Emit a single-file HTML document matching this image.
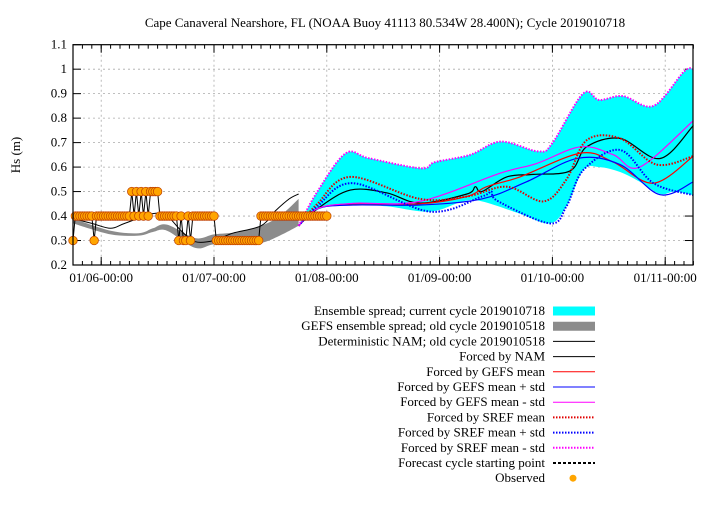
<!DOCTYPE html>
<html><head><meta charset="utf-8"><style>
body{margin:0;background:#fff}
svg text{font-family:"Liberation Serif",serif;font-size:13px;fill:#000}
</style></head><body>
<svg id="c" width="720" height="504" xmlns="http://www.w3.org/2000/svg"></svg>
<script>
// time in hours from 01/05 18:00
const xTickLabels=["01/06-00:00","01/07-00:00","01/08-00:00","01/09-00:00","01/10-00:00","01/11-00:00"];
const xTickHours=[6,30,54,78,102,126];
const yTicks=[0.2,0.3,0.4,0.5,0.6,0.7,0.8,0.9,1,1.1];
const yTickLabels=["0.2","0.3","0.4","0.5","0.6","0.7","0.8","0.9","1","1.1"];
// observed, half-hourly from 01/05 18:00
const obsVals=[0.3,
0.4,0.4,0.4,0.4,0.4,0.4,0.4,0.4,
0.3,
0.4,0.4,0.4,
0.4,0.4,0.4,0.4,0.4,0.4,0.4,0.4,0.4,0.4,0.4,0.4,
0.5,0.4,0.5,0.4,0.5,0.4,0.5,0.4,0.5,0.5,0.5,0.5,0.4,
0.4,0.4,0.4,0.4,0.4,0.4,0.4,
0.3,0.4,0.3,0.3,0.4,0.3,
0.4,0.4,0.4,0.4,0.4,0.4,0.4,0.4,0.4,0.4,
0.3,0.3,0.3,0.3,0.3,0.3,0.3,0.3,0.3,0.3,0.3,0.3,0.3,0.3,0.3,0.3,0.3,0.3,0.3,
0.4,0.4,0.4,0.4,0.4,0.4,0.4,0.4,0.4,0.4,0.4,0.4,0.4,0.4,0.4,0.4,0.4,0.4,0.4,0.4,0.4,0.4,0.4,0.4,0.4,0.4,0.4,0.4,0.4];
const oldT=[0,4,8,11,17,20,23,26,30,34,40,43,46,48];
const oldNam=[.39,.37,.35,.37,.41,.40,.34,.295,.30,.33,.36,.42,.47,.49];
const gefsOldT=[0,8,14,17,20,26,30,35,40,44,48];
const gefsOldHi=[.39,.34,.33,.35,.365,.31,.325,.335,.36,.40,.47];
const gefsOldLo=[.37,.325,.32,.335,.34,.27,.285,.285,.29,.32,.36];
const spreadHiT=[48,52,58,63,74,77,84.5,91,99,102,108.5,112,117,123.5,130,132];
const spreadHi=[.36,.50,.656,.636,.595,.62,.65,.704,.664,.698,.90,.874,.89,.85,.99,1.0];
const spreadLoT=[48,52.6,59.6,66.7,76,83,87,95,101.5,105,108.6,112,116.4,120.6,124.9,128,132];
const spreadLo=[.36,.43,.445,.44,.418,.46,.46,.41,.37,.44,.588,.60,.58,.54,.49,.50,.485];
const namT=[48,52,59,66.7,73.8,83.8,85.6,87,92.3,98,105.8,109.3,116.4,124.9,132];
const nam=[.36,.43,.506,.495,.453,.49,.52,.50,.56,.57,.585,.683,.717,.635,.77];
const gmT=[48,52,59.6,73.8,83.8,88,95.1,108,115,123.5,132];
const gm=[.36,.43,.45,.45,.48,.52,.56,.657,.62,.534,.645];
const gpT=[48,52,59.6,73.8,87,96.5,107.4,116.4,124.9,132];
const gp=[.36,.43,.445,.445,.47,.54,.636,.61,.487,.54];
const gsT=[48,52,59.6,73.8,90.9,98.7,108,115,120.6,132];
const gs=[.36,.43,.452,.46,.575,.615,.683,.65,.60,.79];
const smT=[48,52,59,73.8,83.8,92.3,100.1,105,109.3,116.4,124.2,132];
const sm=[.36,.45,.56,.47,.48,.52,.46,.55,.71,.717,.61,.645];
const spT=[48,52,59.6,75.9,87,89,90.5,101.5,105,108.6,116.4,123.5,132];
const sp=[.36,.44,.534,.418,.48,.50,.46,.37,.44,.588,.67,.534,.485];
const L=73,R=693,T=44.7,B=265;
const sx=t=>L+(t)*(112.8/24);
const sy=v=>B-(v-0.2)*(B-T)/0.9;
const svg=document.getElementById('c');const NS="http://www.w3.org/2000/svg";
function mk(tag,at,name){const e=document.createElementNS(NS,tag);for(const k in at)e.setAttribute(k,at[k]);


svg.appendChild(e);return e;}
function pts(ts,vs){return ts.map((t,i)=>sx(t).toFixed(1)+","+sy(vs[i]).toFixed(1)).join(" ");}
function smooth(ts,vs,move){const p=ts.map((t,i)=>[sx(t),sy(vs[i])]);let d=(move?"M":"L")+p[0][0].toFixed(1)+","+p[0][1].toFixed(1);
 for(let i=0;i<p.length-1;i++){const p0=p[Math.max(0,i-1)],p1=p[i],p2=p[i+1],p3=p[Math.min(p.length-1,i+2)];
 const c1=[p1[0]+(p2[0]-p0[0])/6,p1[1]+(p2[1]-p0[1])/6],c2=[p2[0]-(p3[0]-p1[0])/6,p2[1]-(p3[1]-p1[1])/6];
 d+=" C"+c1[0].toFixed(1)+","+c1[1].toFixed(1)+" "+c2[0].toFixed(1)+","+c2[1].toFixed(1)+" "+p2[0].toFixed(1)+","+p2[1].toFixed(1);}
 return d;}
// grid
yTicks.forEach((v,i)=>{const y=sy(v);
 if(i>0&&i<yTicks.length-1)mk('line',{x1:L,x2:R,y1:y,y2:y,stroke:'#aaa','stroke-dasharray':'2,3','stroke-width':0.8},'y-grid-line');
 mk('line',{x1:L,x2:L+8,y1:y,y2:y,stroke:'#000'},'y-tick');mk('line',{x1:R-8,x2:R,y1:y,y2:y,stroke:'#000'},'y-tick');
 const t=mk('text',{x:L-6,y:y+4,'text-anchor':'end'},'y-tick-label');t.textContent=yTickLabels[i];});
xTickHours.forEach((h,i)=>{const x=sx(h);
 mk('line',{x1:x,x2:x,y1:T,y2:B,stroke:'#aaa','stroke-dasharray':'2,3','stroke-width':0.8},'x-grid-line');
 mk('line',{x1:x,x2:x,y1:B,y2:B-8,stroke:'#000'},'x-tick');mk('line',{x1:x,x2:x,y1:T,y2:T+8,stroke:'#000'},'x-tick');
 const t=mk('text',{x:x,y:B+17,'text-anchor':'middle'},'x-tick-label');t.textContent=xTickLabels[i];});
for(let h=0;h<=132;h+=2){const x=sx(h);mk('line',{x1:x,x2:x,y1:B,y2:B-4,stroke:'#000'},'x-minor-tick');mk('line',{x1:x,x2:x,y1:T,y2:T+4,stroke:'#000'},'x-minor-tick');}
// bands
mk('path',{d:smooth(gefsOldT,gefsOldHi,true)+" "+smooth(gefsOldT.slice().reverse(),gefsOldLo.slice().reverse(),false)+"Z",fill:'#8c8c8c'},'gefs-old-spread');
mk('path',{d:smooth(spreadHiT,spreadHi,true)+" "+smooth(spreadLoT.slice().reverse(),spreadLo.slice().reverse(),false)+"Z",fill:'#00ffff'},'ensemble-spread');
mk('path',{d:smooth(oldT,oldNam,true),fill:'none',stroke:'#000','stroke-width':1},'nam-old-line');
const series=[[namT,nam,'#000',null,'forced-nam-line'],[gmT,gm,'#f00',null,'gefs-mean-line'],[gpT,gp,'#00f',null,'gefs-plus-std-line'],[gsT,gs,'#f0f',null,'gefs-minus-std-line'],[smT,sm,'#e00000','1.5,1.5','sref-mean-line'],[spT,sp,'#00f','1.5,1.5','sref-plus-std-line'],[spreadHiT,spreadHi,'#f0f','1.5,1.5','sref-minus-std-line']];
series.forEach(s=>{const a={d:smooth(s[0],s[1],true),fill:'none',stroke:s[2],'stroke-width':s[3]?2:1.2};if(s[3])a['stroke-dasharray']=s[3];mk('path',a,s[4]);});
// observed
const obsT=obsVals.map((v,i)=>i*0.5);
mk('polyline',{points:pts(obsT,obsVals),fill:'none',stroke:'#000','stroke-width':1},'observed-line');
obsVals.forEach((v,i)=>{mk('circle',{cx:sx(obsT[i]),cy:sy(v),r:4.3,fill:'#ffa500',stroke:'#c04000','stroke-width':0.7},'observed-point');});
mk('rect',{x:L,y:T,width:R-L,height:B-T,fill:'none',stroke:'#000','stroke-width':1.2},'plot-frame');
const tt=mk('text',{x:385,y:27,'text-anchor':'middle'},'chart-title');tt.textContent="Cape Canaveral Nearshore, FL (NOAA Buoy 41113 80.534W 28.400N); Cycle 2019010718";
const yl=mk('text',{x:20,y:155,'text-anchor':'middle',transform:'rotate(-90 20 155)'},'y-axis-title');yl.textContent="Hs (m)";
// legend
const legLabels=["Ensemble spread; current cycle 2019010718","GEFS ensemble spread; old cycle 2019010518","Deterministic NAM; old cycle 2019010518","Forced by NAM","Forced by GEFS mean","Forced by GEFS mean + std","Forced by GEFS mean - std","Forced by SREF mean","Forced by SREF mean + std","Forced by SREF mean - std","Forecast cycle starting point","Observed"];
const legStyle=[['#00ffff',9,null],['#8c8c8c',9,null],['#000',1,null],['#000',1,null],['#f00',1,null],['#00f',1,null],['#f0f',1,null],['#e00000',2,'1.5,1.5'],['#00f',2,'1.5,1.5'],['#f0f',2,'1.5,1.5'],['#000',2,'3,2'],null];
legLabels.forEach((l,i)=>{const y=311+i*15.2;
 const t=mk('text',{x:545,y:y+4,'text-anchor':'end'},'legend-label');t.textContent=l;
 if(legStyle[i]){const s=legStyle[i];const a={x1:553,x2:595,y1:y,y2:y,stroke:s[0],'stroke-width':s[1]};if(s[2])a['stroke-dasharray']=s[2];mk('line',a,'legend-swatch');}
 else mk('circle',{cx:573,cy:y,r:3.5,fill:'#ffa500'},'legend-swatch');});
</script>
</body></html>
